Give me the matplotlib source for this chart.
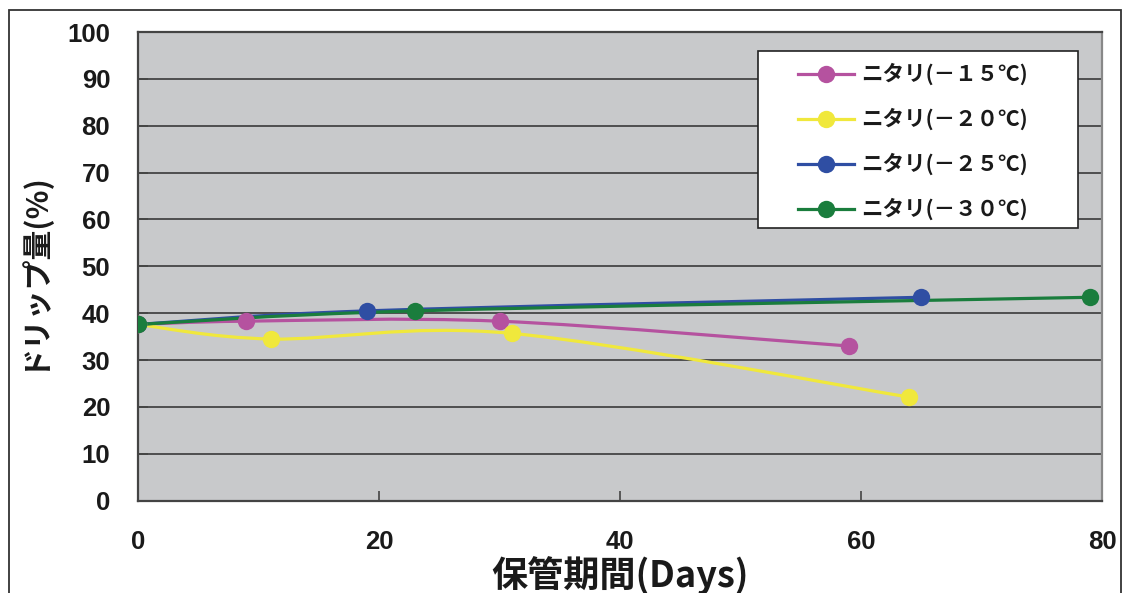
import matplotlib
matplotlib.use("Agg")
import matplotlib.pyplot as plt
from matplotlib.path import Path
from matplotlib.patches import PathPatch, Rectangle
from matplotlib.lines import Line2D
import numpy as np

plt.rcParams['font.family'] = ['Noto Sans CJK JP', 'DejaVu Sans']

# ---- data ----
labels = ["ニタリ(－１５℃)", "ニタリ(－２０℃)", "ニタリ(－２５℃)", "ニタリ(－３０℃)"]
days_15 = [0, 9, 30, 59]
drip_15 = [37.6, 38.3, 38.3, 33.0]
days_20 = [0, 11, 31, 64]
drip_20 = [37.6, 34.5, 35.7, 22.1]
days_25 = [0, 19, 65]
drip_25 = [37.6, 40.5, 43.4]
days_30 = [0, 23, 79]
drip_30 = [37.6, 40.5, 43.4]
colors = ["#B5529F", "#F0E83C", "#2F4EA3", "#1A7D3D"]

xticks = [0, 20, 40, 60, 80]
yticks = list(range(0, 101, 10))

series = [(days_15, drip_15), (days_20, drip_20), (days_25, drip_25), (days_30, drip_30)]


def smooth_path(xs, ys, t=1.0 / 6.0):
    P = np.column_stack([xs, ys]).astype(float)
    n = len(P)
    verts = [P[0]]
    codes = [Path.MOVETO]
    for i in range(n - 1):
        p_prev = P[i - 1] if i > 0 else P[i]
        p_next2 = P[i + 2] if i + 2 < n else P[i + 1]
        c1 = P[i] + (P[i + 1] - p_prev) * t
        c2 = P[i + 1] - (p_next2 - P[i]) * t
        verts += [c1, c2, P[i + 1]]
        codes += [Path.CURVE4] * 3
    return Path(verts, codes)


fig = plt.figure(figsize=(11.23, 5.93), dpi=100)
ax = fig.add_axes([138 / 1123, 1 - 500.7 / 593, (1102 - 138) / 1123, (500.7 - 32) / 593])
ax.set_facecolor("#C8C9CB")

for (xs, ys), c in zip(series, colors):
    pp = PathPatch(smooth_path(xs, ys), facecolor="none", edgecolor=c, lw=2.3,
                   transform=ax.transData, zorder=3, capstyle="round")
    ax.add_patch(pp)
    ax.plot(xs, ys, linestyle="none", marker="o", markersize=12.5, color=c,
            markeredgewidth=0, zorder=4)

ax.set_xlim(0, 80)
ax.set_ylim(0, 100)
tick_font = {"family": "Liberation Sans", "weight": "bold", "size": 18.5}
ax.set_xticks(xticks)
ax.set_xticklabels([str(v) for v in xticks], fontdict=tick_font, color="#1a1a1a")
ax.set_yticks(yticks)
ax.set_yticklabels([str(v) for v in yticks], fontdict=tick_font, color="#1a1a1a")
ax.yaxis.grid(True, color="#3a3a3a", lw=1.2)
ax.set_axisbelow(True)
ax.tick_params(axis="both", direction="in", length=7, width=1.2, color="#444444")
ax.tick_params(axis="x", pad=21)
ax.tick_params(axis="y", pad=20)

ax.spines["left"].set_color("#444444")
ax.spines["bottom"].set_color("#444444")
ax.spines["top"].set_color("#444444")
ax.spines["right"].set_color("#888888")
for s in ax.spines.values():
    s.set_linewidth(1.6)

fig.text(31 / 1123, 1 - 270 / 593, "ドリップ量(%)", rotation=90, ha="center", va="center",
         fontsize=21.5, fontweight="bold", color="#1a1a1a")
fig.text(620 / 1123, 1 - 576 / 593, "保管期間(Days)", ha="center", va="center",
         fontsize=26, fontweight="bold", color="#1a1a1a")

# legend box
box = Rectangle(((758 - 138) / 964, (500.7 - 228) / 468.7), (1078 - 758) / 964, (228 - 51) / 468.7,
                transform=ax.transAxes, facecolor="white", edgecolor="#222222", lw=1.2, zorder=5)
ax.add_patch(box)
handles = [Line2D([], [], color=c, lw=2.3, marker="o", markersize=12.5, markeredgewidth=0) for c in colors]
leg = ax.legend(handles, labels, loc="upper left", bbox_to_anchor=((798 - 138) / 964, (500.7 - 63) / 468.7),
                frameon=False, borderpad=0, borderaxespad=0, handlelength=2.6, handletextpad=0.35,
                labelspacing=1.05, prop={"size": 15.5, "weight": "bold"})
leg.set_zorder(6)
for t in leg.get_texts():
    t.set_color("#1a1a1a")

# outer frame
frame = Rectangle((9 / 1123, -0.05), (1121 - 9) / 1123, (1 - 10 / 593) + 0.05,
                  transform=fig.transFigure, facecolor="none", edgecolor="#333333", lw=1.3)
fig.patches.append(frame)

fig.savefig("out.png", dpi=100)
